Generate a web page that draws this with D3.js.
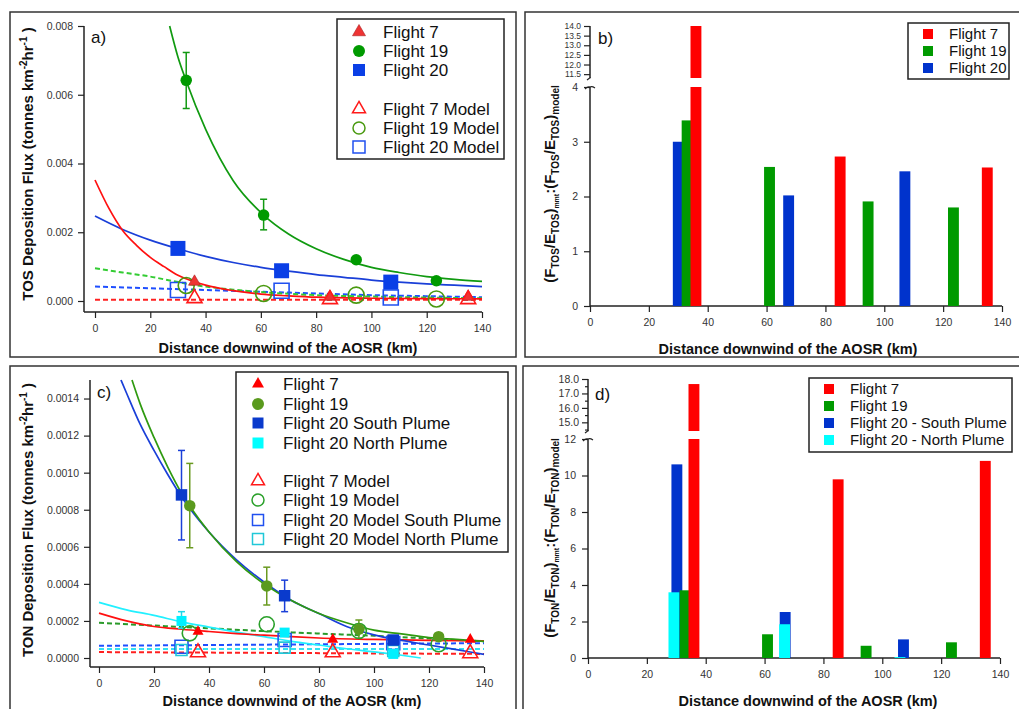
<!DOCTYPE html>
<html><head><meta charset="utf-8">
<script src="https://cdn.jsdelivr.net/npm/d3@7"></script>
<style>body{margin:0;background:#fff} text{font-family:Arial,"Liberation Sans",sans-serif}</style>
</head><body><svg id="chart" width="1019" height="709"></svg>
<script>
// ---------------- DATA ----------------
const xTicks = [0,20,40,60,80,100,120,140];
// Panel a (TOS flux)
const tosF7X = [36,85,135];
const tosF7 = [0.00056,0.00012,0.00012];
const tosF7Model = [0.00008,0.00005,0.00005];
const tosF19X = [33,61,94.5,123.5];
const tosF19 = [0.00642,0.0025,0.0012,0.00059];
const tosF19ErrLo = [0.0056,0.00207,null,null];
const tosF19ErrHi = [0.00723,0.00296,null,null];
const tosF19Model = [0.00045,0.00022,0.00017,0.00006];
const tosF20X = [30,67.5,107];
const tosF20 = [0.00153,0.00088,0.00055];
const tosF20Model = [0.00032,0.0003,0.0001];
const tosYTicks = [0,0.002,0.004,0.006,0.008];
// fitted curves
const tosFitF7X = [0,5,10,15,20,25,30,36,40,50,60,70,80,100,120,140];
const tosFitF7 = [0.00352,0.0027,0.00205,0.00162,0.00127,0.001,0.00075,0.00056,0.00046,0.0003,0.0002,0.00015,0.00011,0.00008,0.00007,0.00006];
const tosFitF19X = [27,30,33,40,50,61,70,80,90,100,110,120,130,140];
const tosFitF19 = [0.008,0.0071,0.0064,0.005,0.0035,0.0025,0.00195,0.00152,0.00121,0.00098,0.00083,0.00071,0.00063,0.00057];
const tosFitF20X = [0,10,20,30,40,50,60,70,80,90,100,110,120,130,140];
const tosFitF20 = [0.00247,0.00208,0.00177,0.00152,0.0013,0.00112,0.00098,0.00087,0.00077,0.00069,0.00061,0.00055,0.0005,0.00046,0.00042];
const tosModF19X = [0,10,20,30,40,50,60,70,80,100,120,140];
const tosModF19 = [0.00095,0.00083,0.00071,0.00055,0.00042,0.00033,0.00026,0.00021,0.00017,0.00013,0.0001,0.00008];
const tosModF20X = [0,20,40,60,80,100,120,140];
const tosModF20 = [0.00042,0.00037,0.00032,0.00027,0.00022,0.00017,0.00014,0.00011];
const tosModF7X = [0,140];
const tosModF7 = [0.00004,0.00004];

// Panel b (TOS ratio bars)
const ratTosF7X = [36,85,135], ratTosF7 = [14.0,2.73,2.53];
const ratTosF19X = [33,61,94.5,123.5], ratTosF19 = [3.39,2.54,1.91,1.8];
const ratTosF20X = [30,67.5,107], ratTosF20 = [3.0,2.02,2.46];
const ratTosLowTicks = [0,1,2,3,4];
const ratTosHighTicks = [11.5,12.0,12.5,13.0,13.5,14.0];

// Panel c (TON flux)
const tonF7X = [36,85,135];
const tonF7 = [0.000142,0.0001,0.0001];
const tonF7Model = [0.00003,0.00003,0.000025];
const tonF19X = [33,61,94.5,123.5];
const tonF19 = [0.000822,0.000389,0.000155,0.000115];
const tonF19ErrLo = [0.000595,0.000286,0.000106,null];
const tonF19ErrHi = [0.00105,0.00049,0.000205,null];
const tonF19Model = [0.000133,0.000182,0.000146,0.000074];
const tonF20X = [30,67.5,107];
const tonF20S = [0.00088,0.000336,0.000097];
const tonF20SErrLo = [0.000637,0.00025,null];
const tonF20SErrHi = [0.00112,0.00042,null];
const tonF20N = [0.0002,0.000137,0.000022];
const tonF20NErrLo = [0.00016,null,null];
const tonF20NErrHi = [0.00025,null,null];
const tonF20SModel = [0.000061,0.000097,0.00008];
const tonF20NModel = [0.000043,0.000056,0.000038];
const tonYTicks = [0,0.0002,0.0004,0.0006,0.0008,0.001,0.0012,0.0014];
const tonFitF7X = [0,10,20,30,40,50,60,70,80,100,120,140];
const tonFitF7 = [0.000242,0.0002,0.00017,0.000155,0.000143,0.000132,0.000123,0.000115,0.000108,0.0001,0.000095,0.000092];
const tonFitF19X = [12,15,20,25,30,33,40,50,60,70,80,90,100,110,120,130,140];
const tonFitF19 = [0.0015,0.00137,0.00119,0.00103,0.00089,0.00082,0.00068,0.00052,0.0004,0.00031,0.00024,0.00019,0.00015,0.00013,0.00011,0.0001,0.00009];
const tonFitF20SX = [8,10,15,20,25,30,40,50,60,70,80,90,100,110,120,130,140];
const tonFitF20S = [0.0015,0.00143,0.00126,0.00112,0.00099,0.00087,0.00068,0.00053,0.00041,0.00031,0.00024,0.00017,0.000125,0.000095,0.00007,0.000045,0.00002];
const tonFitF20NX = [0,10,20,30,40,50,60,70,80,90,100,110,117];
const tonFitF20N = [0.0003,0.00026,0.00023,0.000195,0.000167,0.00014,0.000115,0.00009,0.00007,0.00005,0.000033,0.000015,0.0];
const tonModF19X = [0,20,40,60,80,100,120,140];
const tonModF19 = [0.00019,0.000175,0.00016,0.000145,0.000132,0.00012,0.000105,0.00009];
const tonModF20SX = [0,140], tonModF20S = [0.000066,0.00008];
const tonModF20NX = [0,140], tonModF20N = [0.000048,0.000048];
const tonModF7X = [0,140], tonModF7 = [0.000032,0.000022];

// Panel d (TON ratio bars)
const ratTonF7X = [36,85,135], ratTonF7 = [17.65,9.79,10.8];
const ratTonF19X = [33,61,94.5,123.5], ratTonF19 = [3.71,1.3,0.67,0.86];
const ratTonF20SX = [30.2,67,107.2], ratTonF20S = [10.61,2.52,1.02];
const ratTonF20NX = [29.2,66.8,106], ratTonF20N = [3.6,1.85,0.05];
const ratTonLowTicks = [0,2,4,6,8,10,12];
const ratTonHighTicks = [15,16,17,18];

// ---------------- DRAWING ----------------
const svg = d3.select('#chart');
svg.append('rect').attr('width',1019).attr('height',709).attr('fill','#fff');
const FONT = 'Arial, Liberation Sans, sans-serif';

// panel frames
[[10,12,506,345],[525,12,520,345],[10,366,506,360],[523,366,520,360]].forEach(r=>{
  svg.append('rect').attr('x',r[0]).attr('y',r[1]).attr('width',r[2]).attr('height',r[3])
    .attr('fill','none').attr('stroke','#333').attr('stroke-width',1.5);
});

function styleAxis(g, fs){
  g.select('.domain').remove();
  g.selectAll('line').attr('stroke','#222').attr('stroke-width',1.2);
  g.selectAll('text').attr('font-size',fs||10).attr('fill','#333').attr('font-family',FONT);
}
function hline(x1,x2,y){ svg.append('line').attr('x1',x1).attr('x2',x2).attr('y1',y).attr('y2',y).attr('stroke','#222').attr('stroke-width',1.5); }
function vline(x,y1,y2){ svg.append('line').attr('x1',x).attr('x2',x).attr('y1',y1).attr('y2',y2).attr('stroke','#222').attr('stroke-width',1.5); }

function marker(g,type,cx,cy,size,fill,stroke,sw){
  const sym = type==='tri'?d3.symbolTriangle:type==='circ'?d3.symbolCircle:d3.symbolSquare;
  const area = type==='tri'? size*size*Math.sqrt(3)/4 : type==='circ'? Math.PI*size*size/4 : size*size;
  g.append('path').attr('d',d3.symbol(sym,area)()).attr('transform',`translate(${cx},${cy})`)
    .attr('fill',fill).attr('stroke',stroke||'none').attr('stroke-width',sw||0);
}
function curve(g,x,y,xs,ys,color,dashed,w){
  const pts = xs.map((v,i)=>[v,ys[i]]);
  g.append('path').attr('d',d3.line().x(d=>x(d[0])).y(d=>y(d[1])).curve(d3.curveMonotoneX)(pts))
    .attr('fill','none').attr('stroke',color).attr('stroke-width',w||1.7)
    .attr('stroke-dasharray',dashed?'5,3':null);
}
function errbars(g,x,y,xs,lo,hi,color){
  xs.forEach((v,i)=>{
    if(lo[i]==null) return;
    const cx=x(v);
    g.append('line').attr('x1',cx).attr('x2',cx).attr('y1',y(lo[i])).attr('y2',y(hi[i])).attr('stroke',color).attr('stroke-width',1.5);
    [lo[i],hi[i]].forEach(e=>g.append('line').attr('x1',cx-3.5).attr('x2',cx+3.5).attr('y1',y(e)).attr('y2',y(e)).attr('stroke',color).attr('stroke-width',1.5));
  });
}
function label(x,y,t,fs,weight,anchor){
  return svg.append('text').attr('x',x).attr('y',y).text(t).attr('font-size',fs).attr('font-weight',weight||'normal')
    .attr('text-anchor',anchor||'start').attr('fill','#111').attr('font-family',FONT);
}
function legend(box, items, sx, tx, fs){
  svg.append('rect').attr('x',box[0]).attr('y',box[1]).attr('width',box[2]).attr('height',box[3])
    .attr('fill','#fff').attr('stroke','#222').attr('stroke-width',1.5);
  const g = svg.append('g');
  items.forEach(it=>{
    marker(g,it.type,sx,it.y,it.size,it.fill,it.stroke,it.sw);
    g.append('text').attr('x',tx).attr('y',it.y).attr('dy','0.36em').text(it.text).attr('font-size',fs).attr('fill','#111').attr('font-family',FONT);
  });
}
function rotTitle(x,y,parts,fs){
  const t = svg.append('text').attr('transform',`translate(${x},${y}) rotate(-90)`).attr('text-anchor','middle')
    .attr('font-weight','bold').attr('font-size',fs).attr('fill','#111').attr('font-family',FONT);
  let shift = 0;
  parts.forEach(p=>{
    const s = t.append('tspan').text(p.t);
    const target = p.sup? -p.off : p.sub? p.off : 0;
    s.attr('dy', target - shift); shift = target;
    if(p.fs) s.attr('font-size',p.fs);
  });
  return t;
}

// ===== Panel a =====
{
  const x = d3.scaleLinear([0,140],[95,482]);
  const y = d3.scaleLinear([0,0.008],[301,26]);
  svg.append('g').attr('transform','translate(0,312)')
    .call(d3.axisBottom(x).tickValues(xTicks).tickSize(6).tickPadding(7)).call(g=>styleAxis(g,10.5));
  svg.append('g').attr('transform','translate(84,0)')
    .call(d3.axisLeft(y).tickValues(tosYTicks).tickFormat(d3.format('.3f')).tickSize(6).tickPadding(5)).call(g=>styleAxis(g,10.5));
  hline(84,x(140),312); vline(84,y(0.008),312);
  const g = svg.append('g');
  curve(g,x,y,tosModF7X,tosModF7,'#ff2020',true,2);
  curve(g,x,y,tosModF20X,tosModF20,'#1f4fff',true,2);
  curve(g,x,y,tosModF19X,tosModF19,'#33cc33',true,2);
  curve(g,x,y,tosFitF19X,tosFitF19,'#109a10',false,1.7);
  curve(g,x,y,tosFitF20X,tosFitF20,'#1a3fd8',false,1.7);
  curve(g,x,y,tosFitF7X,tosFitF7,'#ff1010',false,1.7);
  errbars(g,x,y,tosF19X,tosF19ErrLo,tosF19ErrHi,'#119911');
  tosF20X.forEach((v,i)=>marker(g,'sq',x(v),y(tosF20Model[i]),15,'none','#2050f0',1.6));
  tosF19X.forEach((v,i)=>marker(g,'circ',x(v),y(tosF19Model[i]),16,'none','#4a9a10',1.6));
  tosF20X.forEach((v,i)=>marker(g,'sq',x(v),y(tosF20[i]),15,'#0a3fe6'));
  tosF19X.forEach((v,i)=>marker(g,'circ',x(v),y(tosF19[i]),11.5,'#009a00'));
  tosF7X.forEach((v,i)=>marker(g,'tri',x(v),y(tosF7[i]),12,'#ee3333','#aa2222',0.6));
  tosF7X.forEach((v,i)=>marker(g,'tri',x(v),y(tosF7Model[i]),15,'none','#ff1a1a',1.6));
  label(91,43,'a)',17);
  label(288,353,'Distance downwind of the AOSR (km)',14.5,'bold','middle');
  rotTitle(33,164,[{t:'TOS Deposition Flux (tonnes km'},{t:'-2',sup:1,off:6,fs:10},{t:'hr'},{t:'-1',sup:1,off:6,fs:10},{t:' )'}],15);
  legend([337,19,167,140],[
    {type:'tri',y:32,size:13,fill:'#ee3333',stroke:'#aa2222',sw:0.6,text:'Flight 7'},
    {type:'circ',y:51,size:12,fill:'#009a00',text:'Flight 19'},
    {type:'sq',y:70,size:12,fill:'#0a3fe6',text:'Flight 20'},
    {type:'tri',y:109,size:13,fill:'none',stroke:'#ff1a1a',sw:1.5,text:'Flight 7 Model'},
    {type:'circ',y:128,size:12,fill:'none',stroke:'#4a9a10',sw:1.5,text:'Flight 19 Model'},
    {type:'sq',y:147,size:12,fill:'none',stroke:'#2050f0',sw:1.5,text:'Flight 20 Model'}
  ],359,383,17);
}

// ===== bar panel helper =====
function barPanel(o){
  const x = d3.scaleLinear([0,140],[o.x0,o.x1]);
  const yL = d3.scaleLinear(o.lowDom,[o.yL0,o.yL1]);
  const yH = d3.scaleLinear(o.highDom,[o.yH0,o.yH1]);
  svg.append('g').attr('transform',`translate(0,${o.yL0})`)
    .call(d3.axisBottom(x).tickValues(xTicks).tickSize(6).tickPadding(7)).call(g=>styleAxis(g,10.5));
  svg.append('g').attr('transform',`translate(${o.x0},0)`)
    .call(d3.axisLeft(yL).tickValues(o.lowTicks).tickFormat(d3.format('d')).tickSize(6).tickPadding(6)).call(g=>styleAxis(g,10.5));
  svg.append('g').attr('transform',`translate(${o.x0},0)`)
    .call(d3.axisLeft(yH).tickValues(o.highTicks).tickFormat(d3.format('.1f')).tickSize(6).tickPadding(3)).call(g=>styleAxis(g,o.highFs));
  if(o.minor) svg.append('g').attr('transform',`translate(${o.x0},0)`)
    .call(d3.axisLeft(yH).tickValues(o.minor).tickFormat('').tickSize(3)).call(g=>styleAxis(g,8));
  hline(o.x0,o.x1,o.yL0); vline(o.x0,o.yL1,o.yL0); vline(o.x0,o.yH1,o.yH0);
  // break marks
  svg.append('path').attr('d',`M${o.x0},${o.yL1} q-2,-1 -5,2 M${o.x0},${o.yH0} q1,-1 -3,2`)
    .attr('fill','none').attr('stroke','#222').attr('stroke-width',1.2);
  svg.append('path').attr('d',`M${o.x0},${o.yL1} q2,-1 5,1`).attr('fill','none').attr('stroke','#222').attr('stroke-width',1.2);
  const bw = x(3.7)-x(0);
  const g = svg.append('g');
  o.series.forEach(s=>{
    s.xs.forEach((v,i)=>{
      const val = s.vals[i];
      const lowTop = Math.min(val,o.lowDom[1]);
      g.append('rect').attr('x',x(v)-bw/2).attr('width',bw).attr('y',yL(lowTop)).attr('height',yL(0)-yL(lowTop)).attr('fill',s.color);
      if(val>o.highDom[0]) g.append('rect').attr('x',x(v)-bw/2).attr('width',bw).attr('y',yH(val)).attr('height',yH(o.highDom[0])-yH(val)).attr('fill',s.color);
    });
  });
}

// ===== Panel b =====
barPanel({x0:590,x1:1002,lowDom:[0,4],yL0:306,yL1:87,highDom:[11.3,14.0],yH0:78,yH1:26,
  lowTicks:ratTosLowTicks,highTicks:ratTosHighTicks,highFs:8.5,
  series:[{xs:ratTosF20X,vals:ratTosF20,color:'#0033cc'},{xs:ratTosF19X,vals:ratTosF19,color:'#009a00'},{xs:ratTosF7X,vals:ratTosF7,color:'#ff0000'}]});
label(598,44,'b)',17);
label(788,354,'Distance downwind of the AOSR (km)',14.5,'bold','middle');
rotTitle(555,184,[{t:'(F'},{t:'TOS',sub:1,off:4,fs:10},{t:'/E'},{t:'TOS',sub:1,off:4,fs:10},{t:')'},{t:'mmt',sub:1,off:4,fs:7},
  {t:':(F'},{t:'TOS',sub:1,off:4,fs:10},{t:'/E'},{t:'TOS',sub:1,off:4,fs:10},{t:')'},{t:'model',sub:1,off:4,fs:10}],15);
legend([908,23,101,56],[
  {type:'sq',y:34,size:10,fill:'#ff0000',text:'Flight 7'},
  {type:'sq',y:51,size:10,fill:'#009a00',text:'Flight 19'},
  {type:'sq',y:68,size:10,fill:'#0033cc',text:'Flight 20'}
],928,949,15);

// ===== Panel c =====
{
  const x = d3.scaleLinear([0,140],[99,484]);
  const y = d3.scaleLinear([0,0.0015],[658,380]);
  svg.append('g').attr('transform','translate(0,667)')
    .call(d3.axisBottom(x).tickValues(xTicks).tickSize(6).tickPadding(7)).call(g=>styleAxis(g,10.5));
  svg.append('g').attr('transform','translate(90,0)')
    .call(d3.axisLeft(y).tickValues(tonYTicks).tickFormat(d3.format('.4f')).tickSize(6).tickPadding(5)).call(g=>styleAxis(g,10.5));
  hline(90,x(140),667); vline(90,380,667);
  const g = svg.append('g');
  curve(g,x,y,tonModF7X,tonModF7,'#ff2020',true,2);
  curve(g,x,y,tonModF20NX,tonModF20N,'#33e0f0',true,2);
  curve(g,x,y,tonModF20SX,tonModF20S,'#1f4fff',true,2);
  curve(g,x,y,tonModF19X,tonModF19,'#2a9a2a',true,2);
  curve(g,x,y,tonFitF20NX,tonFitF20N,'#22f0ff',false,1.7);
  curve(g,x,y,tonFitF7X,tonFitF7,'#ff1010',false,1.7);
  curve(g,x,y,tonFitF20SX,tonFitF20S,'#1a3fd8',false,1.7);
  curve(g,x,y,tonFitF19X,tonFitF19,'#2f9a10',false,1.7);
  errbars(g,x,y,tonF20X,tonF20SErrLo,tonF20SErrHi,'#1a3fd8');
  errbars(g,x,y,tonF20X,tonF20NErrLo,tonF20NErrHi,'#20d8e8');
  errbars(g,x,y,tonF19X,tonF19ErrLo,tonF19ErrHi,'#6a9a20');
  tonF20X.forEach((v,i)=>marker(g,'sq',x(v),y(tonF20SModel[i]),13,'none','#2050f0',1.6));
  tonF20X.forEach((v,i)=>marker(g,'sq',x(v),y(tonF20NModel[i]),11,'none','#20c8d8',1.6));
  tonF19X.forEach((v,i)=>marker(g,'circ',x(v),y(tonF19Model[i]),15,'none','#2aa02a',1.6));
  tonF7X.forEach((v,i)=>marker(g,'tri',x(v),y(tonF7Model[i]),15,'none','#ff1a1a',1.6));
  tonF19X.forEach((v,i)=>marker(g,'circ',x(v),y(tonF19[i]),11.5,'#5a9a1e'));
  tonF20X.forEach((v,i)=>marker(g,'sq',x(v),y(tonF20S[i]),11.5,'#0a3acc'));
  tonF20X.forEach((v,i)=>marker(g,'sq',x(v),y(tonF20N[i]),10,'#00f0ff'));
  tonF7X.forEach((v,i)=>marker(g,'tri',x(v),y(tonF7[i]),11,'#ff0000'));
  label(97,398,'c)',17);
  label(292,706,'Distance downwind of the AOSR (km)',14.5,'bold','middle');
  rotTitle(33,520,[{t:'TON Deposition Flux (tonnes km'},{t:'-2',sup:1,off:6,fs:10},{t:'hr'},{t:'-1',sup:1,off:6,fs:10},{t:' )'}],15);
  legend([236,372,272,180],[
    {type:'tri',y:384,size:12,fill:'#ff0000',text:'Flight 7'},
    {type:'circ',y:404,size:12,fill:'#5a9a1e',text:'Flight 19'},
    {type:'sq',y:423,size:11,fill:'#0a3acc',text:'Flight 20 South Plume'},
    {type:'sq',y:443,size:11,fill:'#00ffff',text:'Flight 20 North Plume'},
    {type:'tri',y:481,size:13,fill:'none',stroke:'#ff1a1a',sw:1.5,text:'Flight 7 Model'},
    {type:'circ',y:500,size:12,fill:'none',stroke:'#2aa02a',sw:1.5,text:'Flight 19 Model'},
    {type:'sq',y:520,size:11,fill:'none',stroke:'#2050f0',sw:1.5,text:'Flight 20 Model South Plume'},
    {type:'sq',y:539,size:11,fill:'none',stroke:'#20c8d8',sw:1.5,text:'Flight 20 Model North Plume'}
  ],258,283,17);
}

// ===== Panel d =====
barPanel({x0:588,x1:1000,lowDom:[0,12],yL0:658,yL1:439,highDom:[14.4,18.0],yH0:431,yH1:379,
  lowTicks:ratTonLowTicks,highTicks:ratTonHighTicks,highFs:10.5,minor:[14.5,15.5,16.5,17.5],
  series:[{xs:ratTonF20SX,vals:ratTonF20S,color:'#0033cc'},{xs:ratTonF20NX,vals:ratTonF20N,color:'#00ffff'},
          {xs:ratTonF19X,vals:ratTonF19,color:'#009a00'},{xs:ratTonF7X,vals:ratTonF7,color:'#ff0000'}]});
label(595,400,'d)',17);
label(808,706,'Distance downwind of the AOSR (km)',14.5,'bold','middle');
rotTitle(555,538,[{t:'(F'},{t:'TON',sub:1,off:4,fs:10},{t:'/E'},{t:'TON',sub:1,off:4,fs:10},{t:')'},{t:'mmt',sub:1,off:4,fs:7},
  {t:':(F'},{t:'TON',sub:1,off:4,fs:10},{t:'/E'},{t:'TON',sub:1,off:4,fs:10},{t:')'},{t:'model',sub:1,off:4,fs:10}],15);
legend([809,378,203,74],[
  {type:'sq',y:389,size:10,fill:'#ff0000',text:'Flight 7'},
  {type:'sq',y:406,size:10,fill:'#009a00',text:'Flight 19'},
  {type:'sq',y:423,size:10,fill:'#0033cc',text:'Flight 20 - South Plume'},
  {type:'sq',y:440,size:10,fill:'#00ffff',text:'Flight 20 - North Plume'}
],829,850,15);
</script></body></html>
